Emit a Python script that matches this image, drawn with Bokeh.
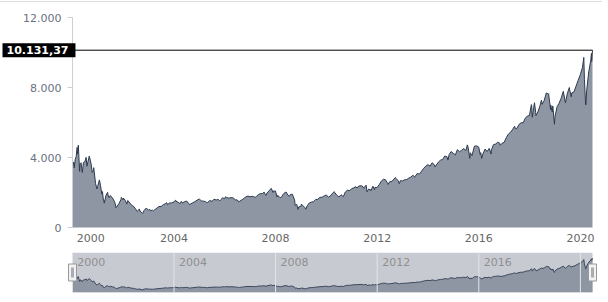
import pandas as pd
from bokeh.plotting import figure
from bokeh.models import Range1d, FixedTicker, Label, Div, ColumnDataSource
from bokeh.layouts import column
from bokeh.core.properties import value
from bokeh.embed import file_html
from bokeh.resources import INLINE

# ---- data ----
dates = [
    "2000-01-03", "2000-01-04", "2000-01-21", "2000-01-28", "2000-02-11", "2000-02-25", "2000-03-10", "2000-03-15",
    "2000-03-27", "2000-04-14", "2000-04-20", "2000-05-05", "2000-05-23", "2000-06-09", "2000-06-30", "2000-07-17",
    "2000-07-28", "2000-08-31", "2000-09-15", "2000-09-29", "2000-10-12", "2000-10-31", "2000-11-03", "2000-11-30",
    "2000-12-20", "2000-12-29",
    "2001-01-24", "2001-02-09", "2001-02-28", "2001-03-09", "2001-03-22", "2001-03-30", "2001-04-04", "2001-04-30",
    "2001-05-22", "2001-05-31", "2001-06-15", "2001-06-29", "2001-07-31", "2001-08-31", "2001-09-21", "2001-09-28",
    "2001-10-31", "2001-11-30", "2001-12-05", "2001-12-31",
    "2002-01-04", "2002-01-31", "2002-02-22", "2002-03-08", "2002-03-28", "2002-04-30", "2002-05-31", "2002-06-28",
    "2002-07-23", "2002-07-31", "2002-08-22", "2002-08-30", "2002-09-30", "2002-10-07", "2002-10-31", "2002-11-29",
    "2002-12-31",
    "2003-01-14", "2003-01-31", "2003-02-28", "2003-03-11", "2003-03-31", "2003-04-30", "2003-05-30", "2003-06-30",
    "2003-07-31", "2003-08-29", "2003-09-19", "2003-09-30", "2003-10-31", "2003-11-28", "2003-12-31",
    "2004-01-26", "2004-01-30", "2004-02-27", "2004-03-24", "2004-03-31", "2004-04-19", "2004-04-30", "2004-05-28",
    "2004-06-30", "2004-07-30", "2004-08-12", "2004-08-31", "2004-09-30", "2004-10-29", "2004-11-30", "2004-12-31",
    "2005-01-31", "2005-02-28", "2005-03-31", "2005-04-19", "2005-04-29", "2005-05-31", "2005-06-30", "2005-07-29",
    "2005-08-31", "2005-09-30", "2005-10-21", "2005-10-31", "2005-11-30", "2005-12-30",
    "2006-01-11", "2006-01-31", "2006-02-28", "2006-03-31", "2006-04-28", "2006-05-31", "2006-06-30", "2006-07-21",
    "2006-07-31", "2006-08-31", "2006-09-29", "2006-10-31", "2006-11-30", "2006-12-29",
    "2007-01-31", "2007-02-27", "2007-03-13", "2007-03-30", "2007-04-30", "2007-05-31", "2007-06-29", "2007-07-19",
    "2007-07-31", "2007-08-16", "2007-08-31", "2007-09-28", "2007-10-31", "2007-11-26", "2007-11-30", "2007-12-31",
    "2008-01-22", "2008-01-31", "2008-02-29", "2008-03-17", "2008-03-31", "2008-04-30", "2008-05-30", "2008-06-30",
    "2008-07-15", "2008-07-31", "2008-08-29", "2008-09-30", "2008-10-10", "2008-10-31", "2008-11-20", "2008-11-28",
    "2008-12-31",
    "2009-01-06", "2009-01-30", "2009-02-27", "2009-03-09", "2009-03-31", "2009-04-30", "2009-05-29", "2009-06-30",
    "2009-07-31", "2009-08-31", "2009-09-30", "2009-10-30", "2009-11-30", "2009-12-31",
    "2010-01-29", "2010-02-26", "2010-03-31", "2010-04-23", "2010-04-30", "2010-05-31", "2010-06-30", "2010-07-30",
    "2010-08-31", "2010-09-30", "2010-10-29", "2010-11-30", "2010-12-31",
    "2011-01-31", "2011-02-28", "2011-03-16", "2011-03-31", "2011-04-29", "2011-05-31", "2011-06-24", "2011-06-30",
    "2011-07-26", "2011-08-08", "2011-08-31", "2011-09-30", "2011-10-03", "2011-10-31", "2011-11-25", "2011-11-30",
    "2011-12-30",
    "2012-01-31", "2012-02-29", "2012-03-30", "2012-04-30", "2012-05-31", "2012-06-04", "2012-06-29", "2012-07-31",
    "2012-08-31", "2012-09-19", "2012-09-28", "2012-10-31", "2012-11-15", "2012-11-30", "2012-12-31",
    "2013-01-31", "2013-02-28", "2013-03-28", "2013-04-30", "2013-05-31", "2013-06-24", "2013-06-28", "2013-07-31",
    "2013-08-30", "2013-09-30", "2013-10-31", "2013-11-29", "2013-12-31",
    "2014-01-31", "2014-02-28", "2014-03-31", "2014-04-14", "2014-04-30", "2014-05-30", "2014-06-30", "2014-07-31",
    "2014-08-29", "2014-09-30", "2014-10-15", "2014-10-31", "2014-11-28", "2014-12-31",
    "2015-01-30", "2015-02-27", "2015-03-31", "2015-04-30", "2015-05-29", "2015-06-30", "2015-07-20", "2015-07-31",
    "2015-08-24", "2015-08-31", "2015-09-28", "2015-09-30", "2015-10-30", "2015-11-30", "2015-12-31",
    "2016-01-20", "2016-01-29", "2016-02-11", "2016-02-29", "2016-03-31", "2016-04-29", "2016-05-31", "2016-06-27",
    "2016-06-30", "2016-07-29", "2016-08-31", "2016-09-30", "2016-10-31", "2016-11-04", "2016-11-30", "2016-12-30",
    "2017-01-31", "2017-02-28", "2017-03-31", "2017-04-28", "2017-05-31", "2017-06-09", "2017-06-30", "2017-07-31",
    "2017-08-31", "2017-09-29", "2017-10-31", "2017-11-30", "2017-12-29",
    "2018-01-26", "2018-01-31", "2018-02-08", "2018-02-28", "2018-03-12", "2018-03-29", "2018-04-02", "2018-04-30",
    "2018-05-31", "2018-06-20", "2018-06-29", "2018-07-31", "2018-08-29", "2018-09-28", "2018-10-01", "2018-10-29",
    "2018-10-31", "2018-11-23", "2018-11-30", "2018-12-24", "2018-12-31",
    "2019-01-31", "2019-02-28", "2019-03-29", "2019-04-30", "2019-05-31", "2019-06-28", "2019-07-26", "2019-07-31",
    "2019-08-23", "2019-08-30", "2019-09-30", "2019-10-31", "2019-11-29", "2019-12-31",
    "2020-01-31", "2020-02-19", "2020-02-28", "2020-03-16", "2020-03-20", "2020-03-31", "2020-04-30", "2020-05-29",
    "2020-06-08", "2020-06-11", "2020-06-23",
]
values = [
    3790, 3546, 3735, 3410, 3900, 4050, 4580, 4210,
    4704, 3207, 3640, 3700, 3150, 3720, 3763, 4010,
    3500, 4077, 3850, 3570, 3150, 3282, 3420, 2507,
    2200, 2342,
    2720, 2400, 1908, 2050, 1560, 1574, 1390, 1855,
    2010, 1800, 1700, 1830, 1683, 1469, 1130, 1169,
    1364, 1596, 1720, 1577,
    1675, 1550, 1340, 1540, 1452, 1277, 1208, 1051,
    920, 962, 1060, 942, 833, 804, 989, 1116,
    984,
    1050, 960, 992, 950, 1018, 1106, 1201, 1201,
    1300, 1364, 1420, 1303, 1404, 1404, 1468,
    1560, 1493, 1451, 1360, 1439, 1480, 1398, 1466,
    1516, 1383, 1304, 1351, 1418, 1478, 1568, 1621,
    1519, 1507, 1483, 1410, 1433, 1542, 1494, 1606,
    1577, 1601, 1530, 1575, 1693, 1645,
    1760, 1706, 1680, 1703, 1700, 1581, 1575, 1460,
    1497, 1568, 1654, 1749, 1797, 1756,
    1783, 1750, 1720, 1772, 1886, 1940, 1934, 2030,
    1932, 1840, 1971, 2092, 2239, 2000, 2085, 2085,
    1740, 1837, 1733, 1700, 1782, 1949, 2031, 1837,
    1780, 1882, 1901, 1580, 1250, 1325, 1036, 1174,
    1212,
    1340, 1239, 1128, 1043, 1237, 1403, 1447, 1477,
    1601, 1614, 1723, 1726, 1806, 1860,
    1730, 1802, 1956, 2050, 2000, 1848, 1745, 1875,
    1759, 2027, 2127, 2109, 2217,
    2270, 2333, 2250, 2337, 2384, 2373, 2240, 2294,
    2420, 2040, 2193, 2152, 2100, 2361, 2160, 2296,
    2278,
    2452, 2645, 2755, 2727, 2522, 2460, 2616, 2641,
    2773, 2860, 2799, 2660, 2500, 2677, 2661,
    2731, 2738, 2819, 2880, 2988, 2870, 2910, 3094,
    3049, 3218, 3384, 3505, 3592,
    3508, 3700, 3596, 3460, 3570, 3737, 3850, 3891,
    4082, 4050, 3850, 4158, 4339, 4236,
    4151, 4449, 4334, 4414, 4509, 4397, 4720, 4589,
    3950, 4274, 4100, 4181, 4648, 4665, 4593,
    4180, 4280, 3950, 4202, 4484, 4341, 4523, 4200,
    4418, 4730, 4772, 4876, 4801, 4700, 4811, 4864,
    5139, 5331, 5436, 5584, 5788, 5650, 5647, 5880,
    5988, 5979, 6248, 6374, 6397,
    7022, 6950, 6300, 6856, 7130, 6581, 6390, 6605,
    6967, 7280, 7040, 7272, 7690, 7628, 7640, 6730,
    7005, 6600, 6950, 5900, 6330,
    6907, 7097, 7378, 7781, 7127, 7671, 8000, 7848,
    7470, 7692, 7750, 8083, 8403, 8733,
    9151, 9718, 8462, 7020, 7000, 7813, 8890, 9555,
    9950, 9490, 10131.37,
]
y_ticks = [0, 4000, 8000, 12000]
y_tick_labels = ["0", "4.000", "8.000", "12.000"]
x_tick_years = [2000, 2004, 2008, 2012, 2016, 2020]
nav_label_years = [2000, 2004, 2008, 2012, 2016]
last_value = values[-1]
last_value_text = "10.131,37"

FONT = "DejaVu Sans"
FILL = "#8f96a3"
LINE = "#2c3a50"


def ms(year):
    return pd.Timestamp(f"{year}-01-01").timestamp() * 1000.0


dt = pd.to_datetime(dates)
x0, x1 = dt[0], dt[-1]
x0_ms = x0.timestamp() * 1000.0
src = ColumnDataSource(dict(x=dt, y=values, zero=[0] * len(values)))

# plot frames run from x=2 to x=602; the data occupies 72..592 of that
DATA_PX = 520
unit = (x1 - x0) / DATA_PX
y_lo, y_hi = y_ticks[0], y_ticks[-1]
y_unit = (y_hi - y_lo) / 210.0          # value per pixel on the main y axis

# ---------------- main chart ----------------
p = figure(width=608, height=248, x_axis_type="datetime",
           x_range=Range1d(x0 - unit * 70, x1 + unit * 10),
           y_range=Range1d(y_lo - 5 * y_unit, y_hi + 8 * y_unit),
           output_backend="svg", toolbar_location=None,
           min_border_left=2, min_border_right=6, min_border_top=7, min_border_bottom=18)
p.outline_line_color = None
p.grid.visible = False
p.background_fill_color = "white"

p.varea(x="x", y1="zero", y2="y", source=src, fill_color=FILL, fill_alpha=1.0)
p.line("x", "y", source=src, line_color=LINE, line_width=1)

yax = p.yaxis[0]
yax.fixed_location = x0_ms
yax.bounds = (y_lo, y_hi)
yax.ticker = FixedTicker(ticks=y_ticks)
yax.major_label_overrides = {t: l for t, l in zip(y_ticks, y_tick_labels)}
yax.axis_line_color = "#ccd0d6"
yax.major_tick_line_color = "#ccd0d6"
yax.major_tick_in = 0
yax.major_tick_out = 5
yax.minor_tick_line_color = None
yax.major_label_standoff = 6
yax.major_label_text_font = FONT
yax.major_label_text_font_size = "11px"
yax.major_label_text_color = "#6b7280"

# the first year label is pushed right (inside the plot) as in the reference
first_tick = ms(x_tick_years[0]) + (unit * 18.5).total_seconds() * 1000.0
xax = p.xaxis[0]
xax.ticker = FixedTicker(ticks=[first_tick] + [ms(y) for y in x_tick_years[1:]])
xax.axis_line_color = None
xax.major_tick_line_color = None
xax.minor_tick_line_color = None
xax.major_tick_in = 0
xax.major_tick_out = 0
xax.major_label_standoff = 1
xax.major_label_text_font = FONT
xax.major_label_text_font_size = "11px"
xax.major_label_text_color = "#666666"

# crosshair at the last value + its label
p.segment(x0=[x0], y0=[last_value], x1=[x1], y1=[last_value], line_color="black", line_width=1)
p.add_layout(Label(x=x0_ms, y=last_value, x_offset=-35, y_offset=0,
                   text=last_value_text, text_align="center", text_baseline="middle",
                   text_font=FONT, text_font_size="11px", text_font_style="bold",
                   text_color="white", background_fill_color="black",
                   padding=dict(left=7, right=7, top=3, bottom=3)))

# ---------------- navigator ----------------
nav_top = 11800
nav = figure(width=608, height=52, x_axis_type=None, y_axis_type=None,
             x_range=Range1d(x0 - unit * 70, x1 + unit * 10), y_range=Range1d(0, nav_top),
             output_backend="svg", toolbar_location=None,
             min_border_left=2, min_border_right=6, min_border_top=2, min_border_bottom=10)
nav.outline_line_color = None
nav.background_fill_color = "white"

nav.quad(left=[x0], right=[x1], bottom=[0], top=[nav_top], fill_color="#c8cad1", line_color=None)
nav.varea(x="x", y1="zero", y2="y", source=src, fill_color=FILL, fill_alpha=1.0)
nav.line("x", "y", source=src, line_color="#3a475c", line_width=1)
tick_ms = [ms(y) for y in x_tick_years]
nav.segment(x0=tick_ms, y0=[0] * len(tick_ms), x1=tick_ms, y1=[nav_top] * len(tick_ms),
            line_color="#e3e5e9", line_width=1)
nav.text(x=[ms(y) for y in nav_label_years], y=[nav_top] * len(nav_label_years),
         text=[str(y) for y in nav_label_years], x_offset=5, y_offset=5,
         text_align="left", text_baseline="top", text_font=value(FONT),
         text_font_size="11px", text_color="#8f8f8f")
nav.rect(x=[x0, x1], y=[nav_top / 2] * 2, width=8, height=17, width_units="screen",
         height_units="screen", fill_color="#f2f2f2", line_color="#999999", line_width=1)
nav.rect(x=[x0, x1], y=[nav_top / 2] * 2, width=3, height=10, width_units="screen",
         height_units="screen", fill_color="#a9acb3", line_color=None)

top_line = Div(text="", width=602, height=1, margin=(1, 0, 0, 0),
               styles={"background-color": "#dcdcdc"})

layout = column(top_line, p, nav, spacing=0)

open("out.html", "w").write(file_html(layout, INLINE))
